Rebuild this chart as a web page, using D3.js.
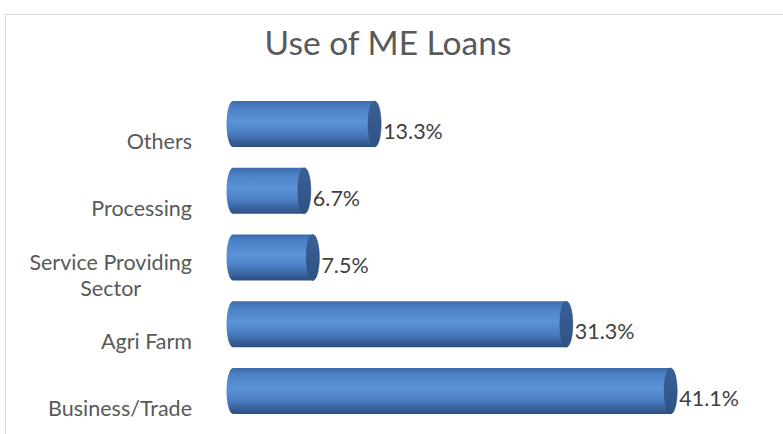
<!DOCTYPE html>
<html>
<head>
<meta charset="utf-8">
<script src="https://cdn.jsdelivr.net/npm/d3@7"></script>
<style>
  body { margin: 0; background: #fff; }
  svg { display: block; }
</style>
</head>
<body>
<svg id="main" width="783" height="434"></svg>
<script>
// data, top bar first
const categories = ["Others", "Processing", "Service Providing Sector", "Agri Farm", "Business/Trade"];
const labelLines = [["Others"], ["Processing"], ["Service Providing", "Sector"], ["Agri Farm"], ["Business/Trade"]];
const shares = [13.3, 6.7, 7.5, 31.3, 41.1];
const valueLabels = ["13.3%", "6.7%", "7.5%", "31.3%", "41.1%"];

function draw() {
    const svg = d3.select("#main");
    const font = "Lato, 'Open Sans', sans-serif";

    // chart frame
    svg.append('rect')
        .attr('x', 5.5).attr('y', 14.5)
        .attr('width', 800).attr('height', 500)
        .attr('fill', 'white')
        .attr('stroke', '#d9d9d9');

    svg.append('text')
        .attr('x', 388).attr('y', 55)
        .attr('text-anchor', 'middle')
        .attr('font-family', font)
        .attr('font-size', 33.5)
        .attr('fill', '#595959')
        .text('Use of ME Loans');

    const x = d3.scaleLinear().domain([0, 45]).range([233, 233 + 45 * 10.65]);
    const y = d3.scaleBand().domain(categories).range([80.3, 434.7]).padding(0.31);
    const rx = 6.5;

    const defs = svg.append('defs');
    const grad = defs.append('linearGradient')
        .attr('id', 'cyl').attr('x1', 0).attr('y1', 0).attr('x2', 0).attr('y2', 1);
    grad.append('stop').attr('offset', '0%').attr('stop-color', '#3b69aa');
    grad.append('stop').attr('offset', '12%').attr('stop-color', '#4a7fc3');
    grad.append('stop').attr('offset', '45%').attr('stop-color', '#5b93d7');
    grad.append('stop').attr('offset', '70%').attr('stop-color', '#4a7ec2');
    grad.append('stop').attr('offset', '100%').attr('stop-color', '#2c4f80');

    const capGrad = defs.append('linearGradient')
        .attr('id', 'cap').attr('x1', 0).attr('y1', 0).attr('x2', 0).attr('y2', 1);
    capGrad.append('stop').attr('offset', '0%').attr('stop-color', '#3a6096');
    capGrad.append('stop').attr('offset', '100%').attr('stop-color', '#2f5283');

    const bars = svg.selectAll('g.bar')
        .data(categories)
        .join('g')
        .attr('class', 'bar');

    // cylinder body with rounded left end
    bars.append('path')
        .attr('d', (d, i) => {
            const x0 = x(0), x1 = x(shares[i]);
            const top = y(d), h = y.bandwidth(), ry = h / 2;
            return `M${x0},${top} L${x1},${top} L${x1},${top + h} L${x0},${top + h}` +
                   ` A${rx},${ry} 0 0 1 ${x0},${top} Z`;
        })
        .attr('fill', 'url(#cyl)');

    // dark right cap
    bars.append('ellipse')
        .attr('cx', (d, i) => x(shares[i]))
        .attr('cy', d => y(d) + y.bandwidth() / 2)
        .attr('rx', rx)
        .attr('ry', y.bandwidth() / 2)
        .attr('fill', 'url(#cap)')
        .attr('stroke', '#2a4a78')
        .attr('stroke-width', 0.5);

    // values
    svg.selectAll('text.val')
        .data(categories)
        .join('text')
        .attr('class', 'val')
        .attr('x', (d, i) => x(shares[i]) + rx + 2)
        .attr('y', d => y(d) + y.bandwidth() / 2 + 15)
        .attr('font-family', font)
        .attr('font-size', 21.5)
        .attr('fill', '#404040')
        .text((d, i) => valueLabels[i]);

    // category labels, right aligned block, lines centred inside it
    const lineH = 26;
    const labelRight = 192;
    svg.selectAll('text.cat')
        .data(categories)
        .join('text')
        .attr('class', 'cat')
        .attr('font-family', font)
        .attr('font-size', 21.5)
        .attr('fill', '#595959')
        .each(function (d, i) {
            const lines = labelLines[i];
            const base = y(d) + y.bandwidth() / 2 + 25;
            const t = d3.select(this);
            const spans = lines.map((ln, k) => t.append('tspan')
                .attr('y', base + (k - (lines.length - 1) / 2) * lineH)
                .text(ln));
            const widths = spans.map(s => s.node().getComputedTextLength());
            const w = d3.max(widths);
            spans.forEach((s, k) => s.attr('x', labelRight - w + (w - widths[k]) / 2));
        });
}

draw();
</script>
</body>
</html>
